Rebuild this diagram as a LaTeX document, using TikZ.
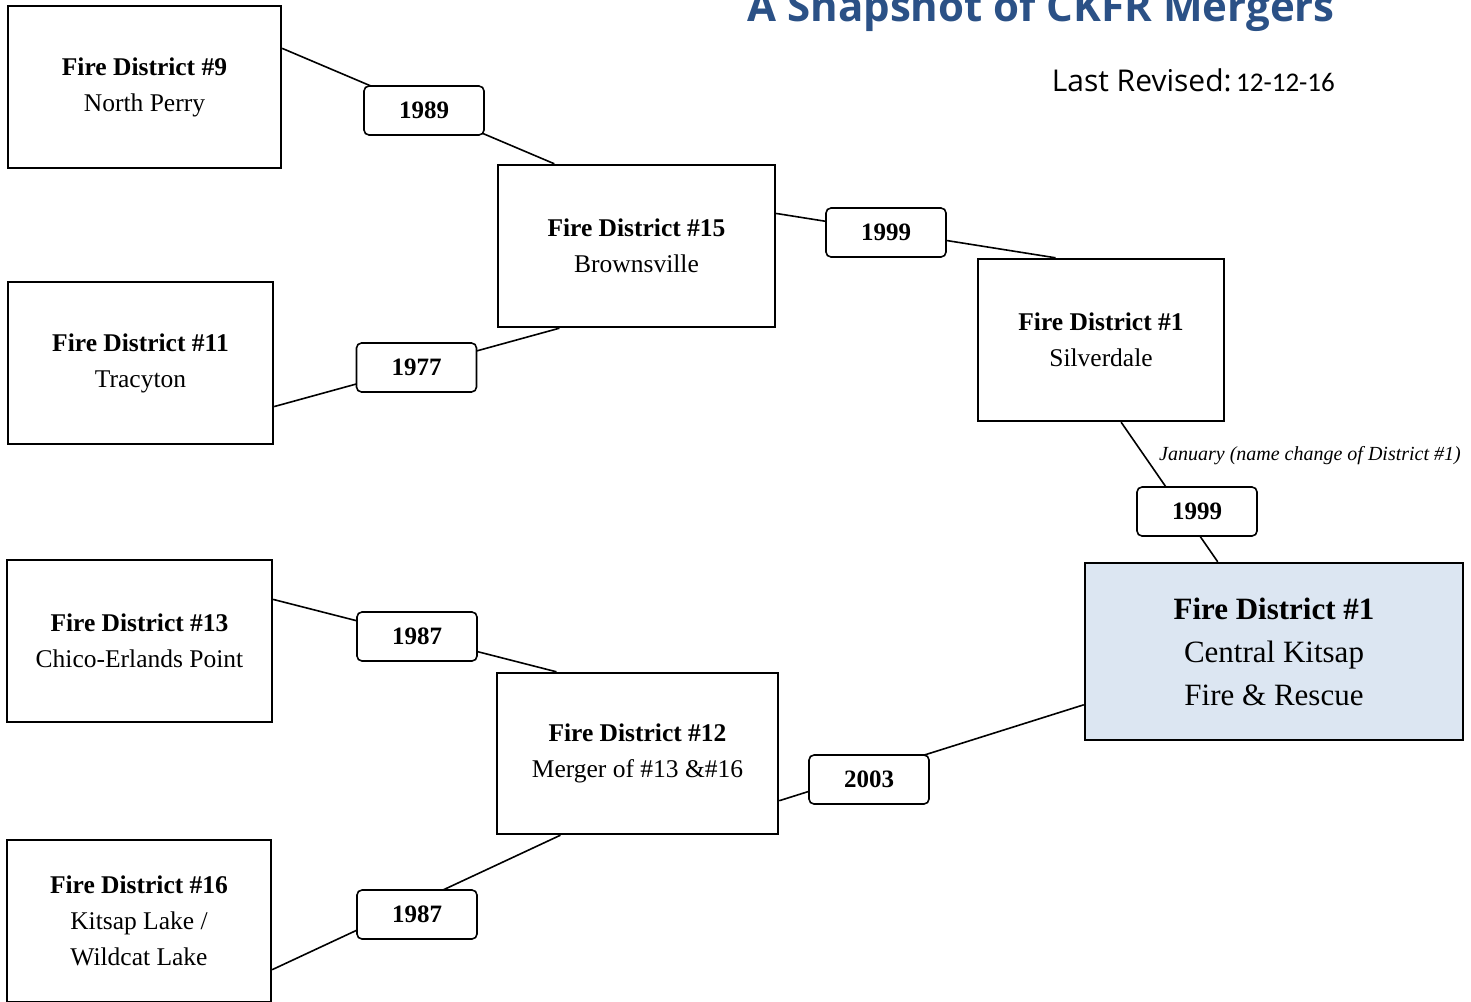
\documentclass[tikz,border=0pt]{standalone}
\usepackage{fontspec}
\setmainfont{Liberation Serif}
\newfontfamily\titlefont{Open Sans}
\newfontfamily\datefont{Carlito}
\usetikzlibrary{calc}
\definecolor{titleblue}{HTML}{2B5186}
\definecolor{boxblue}{HTML}{DCE6F2}
\tikzset{
  district/.style={draw, line width=2.4pt, inner sep=0pt, align=center,
    font=\fontsize{25.5}{36}\selectfont, text=black},
  yearbox/.style={draw, fill=white, rounded corners=5pt, line width=1.6pt,
    minimum width=120pt, minimum height=49pt, inner sep=0pt,
    font=\fontsize{25}{28}\selectfont\bfseries},
  conn/.style={line width=1.6pt}
}
\begin{document}
\begin{tikzpicture}[x=1pt,y=-1pt]
\useasboundingbox (0,0) rectangle (1471,1001);
\clip (0,0) rectangle (1471,1001);
% title
\node[anchor=base east, font=\titlefont\bfseries\fontsize{42}{44}\selectfont, text=titleblue, inner sep=0pt] (title) at (1335,21) {A Snapshot of CKFR Mergers};
\node[anchor=base east, font=\titlefont\fontsize{30}{34}\selectfont, inner sep=0pt] (rev) at (1335,91) {Last Revised:\hspace{0.15em}{\datefont\fontsize{27}{30}\selectfont 12-12-16}};
% districts
\node[district, minimum width=273pt, minimum height=162pt] (fd9) at (144.5,87) {\textbf{Fire District \#9}\\North Perry};
\node[district, minimum width=277pt, minimum height=162pt] (fd15) at (636.5,246) {\textbf{Fire District \#15}\\Brownsville};
\node[district, minimum width=265pt, minimum height=162pt] (fd11) at (140.5,363) {\textbf{Fire District \#11}\\Tracyton};
\node[district, minimum width=246pt, minimum height=162pt] (fd1) at (1101,340) {\textbf{Fire District \#1}\\Silverdale};
\node[district, fill=boxblue, minimum width=378pt, minimum height=177pt, font=\fontsize{31}{43}\selectfont] (ckfr) at (1274,651.5) {\textbf{Fire District \#1}\\Central Kitsap\\Fire \& Rescue};
\node[district, minimum width=265pt, minimum height=162pt] (fd13) at (139.5,641) {\textbf{Fire District \#13}\\Chico-Erlands Point};
\node[district, minimum width=281pt, minimum height=161pt] (fd12) at (637.5,753.5) {\textbf{Fire District \#12}\\Merger of \#13 \&\#16};
\node[district, minimum width=264pt, minimum height=162pt] (fd16) at (139,921) {\textbf{Fire District \#16}\\Kitsap Lake /\\Wildcat Lake};
% connectors
\draw[conn] ($(fd9.north east)!0.265!(fd9.south east)$) -- ($(fd15.north west)!0.206!(fd15.north east)$);
\draw[conn] ($(fd11.north east)!0.765!(fd11.south east)$) -- ($(fd15.south west)!0.224!(fd15.south east)$);
\draw[conn] ($(fd15.north east)!0.302!(fd15.south east)$) -- ($(fd1.north west)!0.317!(fd1.north east)$);
\draw[conn] ($(fd1.south west)!0.581!(fd1.south east)$) -- ($(ckfr.north west)!0.352!(ckfr.north east)$);
\draw[conn] ($(fd13.north east)!0.247!(fd13.south east)$) -- ($(fd12.north west)!0.214!(fd12.north east)$);
\draw[conn] ($(fd16.north east)!0.796!(fd16.south east)$) -- ($(fd12.south west)!0.228!(fd12.south east)$);
\draw[conn] ($(fd12.north east)!0.789!(fd12.south east)$) -- ($(ckfr.north west)!0.797!(ckfr.south west)$);
% year labels
\node[yearbox] (y1989) at (424,110.5) {1989};
\node[yearbox] (y1977) at (416.5,367.5) {1977};
\node[yearbox] (y1999a) at (886,232.5) {1999};
\node[yearbox] (y1999b) at (1197,511.5) {1999};
\node[yearbox] (y1987a) at (417,636.5) {1987};
\node[yearbox] (y2003) at (869,779.5) {2003};
\node[yearbox] (y1987b) at (417,914.5) {1987};
% note
\node[anchor=west, inner sep=0pt, font=\itshape\fontsize{20}{22}\selectfont] (note) at (1159,456) {January (name change of District \#1)};
\end{tikzpicture}
\end{document}
